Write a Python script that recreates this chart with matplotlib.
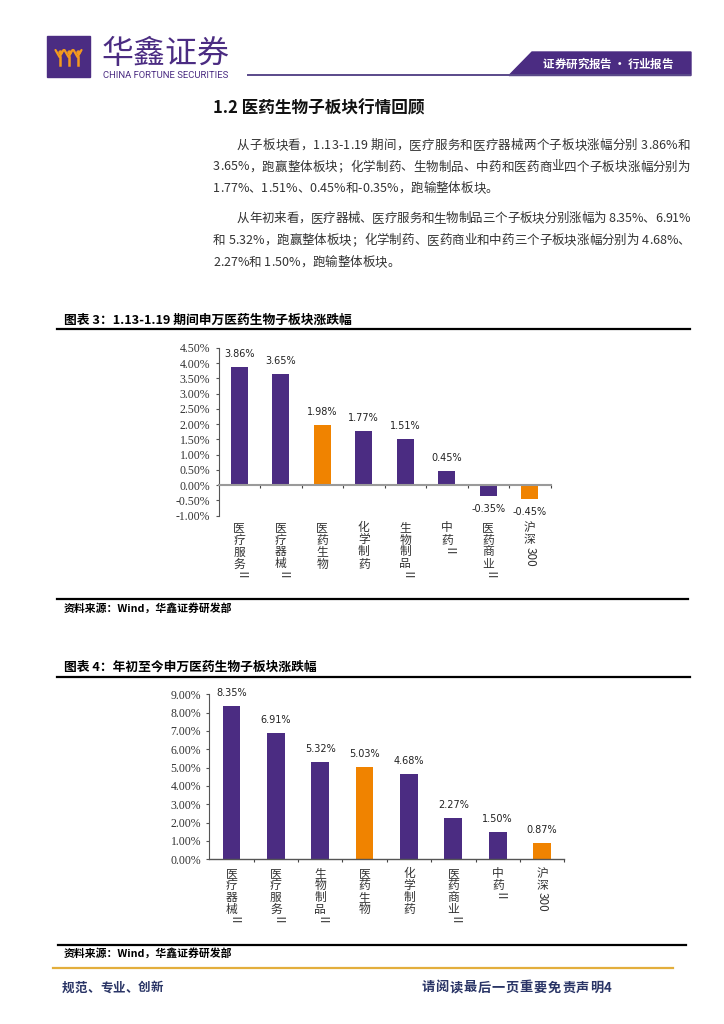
import numpy as np
import matplotlib
matplotlib.use('Agg')
import matplotlib.pyplot as plt
from matplotlib.font_manager import FontProperties
from matplotlib.patches import Rectangle, Polygon

plt.rcParams['font.family'] = ['Noto Sans CJK SC', 'DejaVu Sans']

W, H = 724, 1024
PURPLE = '#4b2c82'
ORANGE = '#f08300'
NAVY = '#2a3566'
HIGHLIGHT = ['医药生物', '沪深300']

# 图表3: 1.13-1.19 期间
week_names = ['医疗服务Ⅱ', '医疗器械Ⅱ', '医药生物', '化学制药', '生物制品Ⅱ', '中药Ⅱ', '医药商业Ⅱ', '沪深300']
week_values = [3.86, 3.65, 1.98, 1.77, 1.51, 0.45, -0.35, -0.45]
week_ticks = [-1.0, -0.5, 0.0, 0.5, 1.0, 1.5, 2.0, 2.5, 3.0, 3.5, 4.0, 4.5]

# 图表4: 年初至今
ytd_names = ['医疗器械Ⅱ', '医疗服务Ⅱ', '生物制品Ⅱ', '医药生物', '化学制药', '医药商业Ⅱ', '中药Ⅱ', '沪深300']
ytd_values = [8.35, 6.91, 5.32, 5.03, 4.68, 2.27, 1.50, 0.87]
ytd_ticks = [0, 1, 2, 3, 4, 5, 6, 7, 8, 9]

para1 = ['从子板块看，1.13-1.19 期间，医疗服务和医疗器械两个子板块涨幅分别 3.86%和',
         '3.65%，跑赢整体板块；化学制药、生物制品、中药和医药商业四个子板块涨幅分别为',
         '1.77%、1.51%、0.45%和-0.35%，跑输整体板块。']
para2 = ['从年初来看，医疗器械、医疗服务和生物制品三个子板块分别涨幅为 8.35%、6.91%',
         '和 5.32%，跑赢整体板块；化学制药、医药商业和中药三个子板块涨幅分别为 4.68%、',
         '2.27%和 1.50%，跑输整体板块。']

fig = plt.figure(figsize=(W / 100, H / 100), dpi=100)
pg = fig.add_axes([0, 0, 1, 1])
pg.set_xlim(0, W)
pg.set_ylim(H, 0)
pg.axis('off')
renderer = fig.canvas.get_renderer()


def text_width(s, prop):
    # measure between bars so that spaces keep their advance
    full = renderer.get_text_width_height_descent('|' + s + '|', prop, ismath=False)[0]
    bars = renderer.get_text_width_height_descent('||', prop, ismath=False)[0]
    return full - bars


def spread(x0, x1, y, s, size, justify=True, weight='normal', color='#111111'):
    prop = FontProperties(family=['Noto Sans CJK SC', 'DejaVu Sans'], size=size, weight=weight)
    widths = [text_width(ch, prop) for ch in s]
    gap = 0
    if justify and len(s) > 1:
        gap = (x1 - x0 - sum(widths)) / (len(s) - 1)
    x = x0
    for ch, w in zip(s, widths):
        if ch != ' ':
            pg.text(x, y, ch, fontsize=size, weight=weight, color=color, va='baseline', ha='left')
        x += w + gap


def box(x0, y0, x1, y1):
    return [x0 / W, 1 - y1 / H, (x1 - x0) / W, (y1 - y0) / H]


# ---- header ----
pg.add_patch(Rectangle((47, 36), 43, 41, color=PURPLE))
for cx in (59.5, 68.5, 77.5):
    pg.plot([cx - 4, cx, cx + 4], [50, 57, 50], color='#f39a1e', lw=1.6, solid_capstyle='round')
    pg.plot([cx, cx], [57, 65], color='#f39a1e', lw=1.8)
    pg.plot([cx], [52], 'o', color='#f39a1e', ms=2.2)
pg.text(102, 63, '华鑫证券', fontsize=23, color=PURPLE, weight='medium', va='baseline')
pg.text(103, 77.5, 'CHINA FORTUNE SECURITIES', fontsize=6.8, family='Roboto', color=PURPLE, va='baseline')
pg.plot([248, 690], [74.5, 74.5], color='#5a4a8a', lw=1.4)
pg.add_patch(Polygon([(509, 75.5), (532, 52), (691, 52), (691, 75.5)], color=PURPLE))
spread(543, 673, 68, '证券研究报告 • 行业报告', 8.3, weight='bold', color='white')

# ---- section text ----
pg.text(213, 113, '1.2 医药生物子板块行情回顾', fontsize=12, weight='bold', color='#111111', va='baseline')
for k, line in enumerate(para1):
    x0 = 237 if k == 0 else 213
    spread(x0, 690, 149 + k * 21.5, line, 9, justify=k < len(para1) - 1, color='#333333')
for k, line in enumerate(para2):
    x0 = 237 if k == 0 else 213
    spread(x0, 690, 222 + k * 22, line, 9, justify=k < len(para2) - 1, color='#333333')


def draw_bars(rect, names, values, ticks, label_gap, zero_color, zero_lw):
    ax = fig.add_axes(box(*rect))
    ax.patch.set_alpha(0)
    x = np.arange(len(names))
    colors = [ORANGE if n in HIGHLIGHT else PURPLE for n in names]
    ax.bar(x, values, width=0.4, color=colors, zorder=2)
    ax.set_xlim(-0.5, len(names) - 0.5)
    ax.set_ylim(ticks[0], ticks[-1])
    ax.set_yticks(ticks)
    ax.set_yticklabels([f'{t:.2f}%' for t in ticks], family='Liberation Serif', fontsize=8.5, color='#333333')
    ax.set_xticks(x + 0.5)
    ax.set_xticklabels([])
    for s in ('top', 'right'):
        ax.spines[s].set_visible(False)
    ax.spines['left'].set_color('#555555')
    ax.spines['left'].set_linewidth(0.8)
    ax.spines['bottom'].set_position(('data', 0))
    ax.spines['bottom'].set_color(zero_color)
    ax.spines['bottom'].set_linewidth(zero_lw)
    ax.spines['bottom'].set_zorder(3)
    ax.tick_params(axis='y', direction='out', length=2, width=0.8, color='#555555', pad=4)
    ax.tick_params(axis='x', direction='out', length=2.5, width=0.8, color='#444444')

    for i, v in enumerate(values):
        off = 13 if v >= 0 else -13
        ax.annotate(f'{v:.2f}%', xy=(i, v), xytext=(0, off), textcoords='offset pixels',
                    ha='center', va='center', fontsize=7, family='DejaVu Sans', color='#222222')

    prop = FontProperties(family=['Noto Sans CJK SC', 'DejaVu Sans'], size=8.5)
    for i, name in enumerate(names):
        head = [ch for ch in name if '\u4e00' <= ch <= '\u9fff']
        tail = name[len(head):]
        for k, ch in enumerate(head):
            ax.annotate(ch, xy=(i, 0), xycoords=('data', 'axes fraction'),
                        xytext=(0, -(label_gap + k * 12)), textcoords='offset pixels',
                        ha='center', va='center', fontsize=8.5, color='#333333')
        if tail:
            ln = text_width(tail, prop)
            ax.annotate(tail, xy=(i, 0), xycoords=('data', 'axes fraction'),
                        xytext=(0, -(label_gap + len(head) * 12 - 6 + ln / 2 + 1)),
                        textcoords='offset pixels', rotation=-90,
                        ha='center', va='center', fontsize=8.5, color='#333333')
    return ax


# ---- 图表3 ----
pg.text(64, 324, '图表 3：1.13-1.19 期间申万医药生物子板块涨跌幅', fontsize=9.2, weight='bold', va='baseline')
pg.plot([57, 690], [328.5, 328.5], color='black', lw=1.6)
draw_bars((218.5, 348, 550.5, 515.5), week_names, week_values, week_ticks, 12.5, '#9a9a9a', 1.5)
pg.plot([57, 688], [599, 599], color='black', lw=1.6)
pg.text(64, 611.5, '资料来源：Wind，华鑫证券研发部', fontsize=7.8, weight='bold', va='baseline')

# ---- 图表4 ----
pg.text(64, 671, '图表 4：年初至今申万医药生物子板块涨跌幅', fontsize=9.2, weight='bold', va='baseline')
pg.plot([57, 690], [676.5, 676.5], color='black', lw=1.6)
draw_bars((209.3, 694.3, 564.3, 859.3), ytd_names, ytd_values, ytd_ticks, 14, '#555555', 1.0)
pg.plot([58, 686], [945, 945], color='black', lw=1.6)
pg.text(64, 957, '资料来源：Wind，华鑫证券研发部', fontsize=7.8, weight='bold', va='baseline')

# ---- footer ----
pg.plot([53, 673], [967.5, 967.5], color='#e3ae3c', lw=1.6)
spread(62, 163, 991.5, '规范、专业、创新', 9, weight='bold', color=NAVY)
spread(421, 612, 991.5, '请阅读最后一页重要免责声明4', 9.5, weight='bold', color=NAVY)

fig.savefig('out.png', dpi=100)
